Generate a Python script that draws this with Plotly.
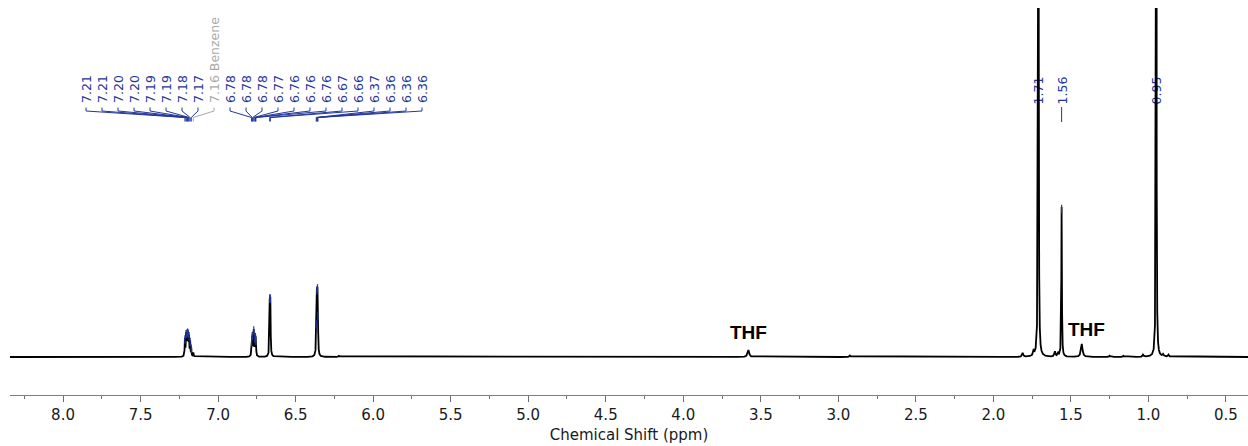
import numpy as np
import plotly.graph_objects as go

# ---------------- peak lists (ppm, height in display units; baseline = 0) ----------------
# aromatic multiplet around 7.2 ppm
m1_ppm = [7.214, 7.207, 7.202, 7.197, 7.192, 7.187, 7.180, 7.173]
m1_int = [17, 20, 19, 20, 19, 18, 14, 8]
# residual solvent (C6D6 / C6H6)
benz_ppm = [7.160]
benz_int = [4]
# multiplet around 6.77 ppm
m2_ppm = [6.784, 6.780, 6.777, 6.770, 6.763, 6.759, 6.756]
m2_int = [12, 15, 16, 25, 14, 15, 12]
# doublet at 6.66 ppm
m3_ppm = [6.667, 6.663]
m3_int = [50, 50]
# multiplet at 6.36 ppm
m4_ppm = [6.367, 6.363, 6.359, 6.356]
m4_int = [20, 52, 52, 22]
# aliphatic singlets
s_ppm = [1.71, 1.56, 0.95]
s_int = [1800, 150, 1500]
# THF signals
thf_ppm = [3.58, 1.43]
thf_int = [7, 13]
# small unlabelled signals
minor_ppm = [6.22, 2.925, 1.811, 1.74, 1.603, 1.583, 1.25, 1.16, 1.035, 0.905, 0.87]
minor_int = [1.2, 1.5, 4, 5, 5, 3, 1.2, 1.2, 2, 2, 2]

# ---------------- canvas geometry ----------------
W, H = 1248, 446
ML, MR, MT, MB = 10, 0, 8, 51
PW, PH = W - ML - MR, H - MT - MB
X_HI, X_LO = 8.342, 0.358          # reversed chemical-shift axis
Y_LO, Y_HI = -38, PH - 38          # baseline sits 38 px above the axis line

NAVY = "#22369a"
GREY = "#a9a9a9"


def px_to_ppm(px):
    return X_HI - (px - ML) / PW * (X_HI - X_LO)


def py_to_paper(py):
    return (H - MB - py) / PH


# ---------------- build the spectrum from Lorentzian lines ----------------
ppm = np.arange(X_LO, X_HI, 0.0003)
spec = np.zeros_like(ppm)


def add_lines(centres, heights, gamma):
    global spec
    for c, h in zip(centres, heights):
        spec += h / (1.0 + ((ppm - c) / gamma) ** 2)


add_lines(m1_ppm, m1_int, 0.0018)
add_lines(benz_ppm, benz_int, 0.0025)
add_lines(m2_ppm, m2_int, 0.0018)
add_lines(m3_ppm, m3_int, 0.002)
add_lines(m4_ppm, m4_int, 0.002)
add_lines(s_ppm[:1], s_int[:1], 0.0012)
add_lines(s_ppm[1:2], s_int[1:2], 0.002)
add_lines(s_ppm[2:], s_int[2:], 0.0012)
add_lines(thf_ppm, thf_int, 0.006)
add_lines(minor_ppm, minor_int, 0.004)

fig = go.Figure()
fig.add_trace(go.Scatter(x=ppm, y=spec, mode="lines",
                         line=dict(color="black", width=1.8),
                         hoverinfo="skip", showlegend=False))

# blue marks on the picked peak tops
picked = m1_ppm + m2_ppm + m3_ppm + m4_ppm + [s_ppm[1]]
pick_y = np.interp(picked, ppm, spec) - 1.5
fig.add_trace(go.Scatter(x=picked, y=pick_y, mode="markers",
                         marker=dict(symbol="line-ns", size=6,
                                     line=dict(color=NAVY, width=1.2)),
                         hoverinfo="skip", showlegend=False))

shapes = []
annotations = []

# ---------------- fanned peak labels for the aromatic region ----------------
fan_ppm = m1_ppm + benz_ppm + m2_ppm + m3_ppm + m4_ppm
fan_col = [NAVY] * len(m1_ppm) + [GREY] + [NAVY] * (len(m2_ppm) + len(m3_ppm) + len(m4_ppm))
y_text, y_a, y_b, y_c = py_to_paper(104), py_to_paper(107.5), py_to_paper(111), py_to_paper(117.5)
y_d = py_to_paper(121.5)
for i, (p, col) in enumerate(zip(fan_ppm, fan_col)):
    lx = px_to_ppm(86 + 16 * i)
    txt = f"{p:.2f}"
    if col == GREY:
        txt += " Benzene"
    annotations.append(dict(x=lx, y=y_text, xref="x", yref="paper", text=txt,
                            textangle=-90, showarrow=False, xanchor="center",
                            yanchor="bottom", borderpad=0,
                            font=dict(family="DejaVu Sans", size=12.5, color=col)))
    shapes.append(dict(type="path", xref="x", yref="paper", layer="below",
                       path=f"M{lx},{y_a} L{lx},{y_b} L{p},{y_c} L{p},{y_d}",
                       line=dict(color=col, width=1)))

# ---------------- labels of the aliphatic singlets (drawn beneath the trace) ----------------
for p in s_ppm:
    shapes.append(dict(type="rect", xref="x", yref="paper", layer="below",
                       x0=p + 0.02, x1=p - 0.02,
                       y0=py_to_paper(105), y1=py_to_paper(76),
                       line=dict(width=0), fillcolor="rgba(0,0,0,0)",
                       label=dict(text=f"{p:.2f}", textangle=-90,
                                  textposition="middle center",
                                  font=dict(family="DejaVu Sans", size=12.5, color=NAVY))))
    shapes.append(dict(type="line", xref="x", yref="paper", layer="below",
                       x0=p, x1=p, y0=py_to_paper(107), y1=py_to_paper(122),
                       line=dict(color=NAVY, width=1)))

# ---------------- THF annotations ----------------
for p, py in zip(thf_ppm, [332, 329]):
    annotations.append(dict(x=p, y=py_to_paper(py), xref="x", yref="paper",
                            text="<b>THF</b>", showarrow=False,
                            xanchor="center", yanchor="middle",
                            xshift=0 if p > 2 else 5,
                            font=dict(family="Liberation Sans", size=19, color="black")))

fig.update_layout(
    width=W, height=H,
    margin=dict(l=ML, r=MR, t=MT, b=MB),
    paper_bgcolor="white", plot_bgcolor="white",
    showlegend=False,
    shapes=shapes, annotations=annotations,
    xaxis=dict(range=[X_HI, X_LO], showgrid=False, zeroline=False,
               showline=True, linecolor="#808080", linewidth=1.2,
               ticks="outside", ticklen=6, tickcolor="#707070", tickwidth=1,
               tick0=0, dtick=0.5, tickformat=".1f",
               minor=dict(dtick=0.25, ticks="outside", ticklen=3,
                          tickcolor="#707070", tickwidth=1),
               tickfont=dict(family="DejaVu Sans", size=15, color="#1a1a1a"),
               title=dict(text="Chemical Shift (ppm)", standoff=6,
                          font=dict(family="DejaVu Sans", size=15, color="#1a1a1a"))),
    yaxis=dict(range=[Y_LO, Y_HI], visible=False, fixedrange=True),
)

fig.write_html("out.html")
